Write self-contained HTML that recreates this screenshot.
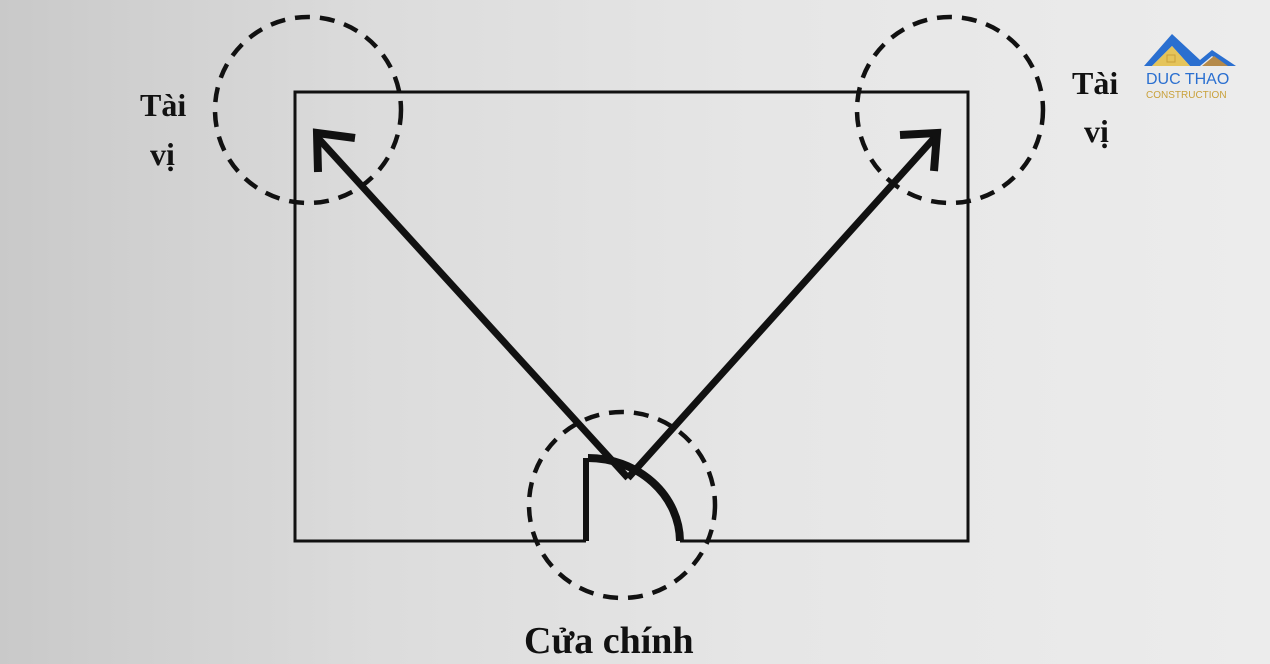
<!DOCTYPE html>
<html><head><meta charset="utf-8"><style>
html,body{margin:0;padding:0;}
body{width:1270px;height:664px;overflow:hidden;background:linear-gradient(90deg,#c9c9c9 0%,#dcdcdc 30%,#e6e6e6 60%,#ececec 100%);}
svg{position:absolute;left:0;top:0}
</style></head><body>
<svg width="1270" height="664" viewBox="0 0 1270 664">
<g fill="none" stroke="#111">
<path d="M586 541 H295 V92 H968 V541 H680" stroke-width="3"/>
<circle cx="308" cy="110" r="93" stroke-width="4.5" stroke-dasharray="15 10"/>
<circle cx="950" cy="110" r="93" stroke-width="4.5" stroke-dasharray="15 10"/>
<circle cx="622" cy="505" r="93" stroke-width="4.5" stroke-dasharray="15 10"/>
<path d="M586 541 V458" stroke-width="6"/>
<path d="M588 458 A 92 84 0 0 1 680 541" stroke-width="8"/>
<path d="M628 478 L318 138" stroke-width="7"/>
<path d="M628 478 L936 136" stroke-width="7"/>
<path d="M355 138 L317 133 L318 172" stroke-width="8" stroke-linejoin="miter"/>
<path d="M900 135 L937 133 L934 171" stroke-width="8" stroke-linejoin="miter"/>
</g>
<g font-family="Liberation Serif, serif" font-weight="bold" fill="#111">
<text x="140" y="116" font-size="32">Tài</text>
<text x="150" y="165" font-size="32">vị</text>
<text x="1072" y="94" font-size="32">Tài</text>
<text x="1084" y="142" font-size="32">vị</text>
<text x="524" y="653" font-size="38">Cửa chính</text>
</g>
<g>
<path d="M1144 66 L1172 34 L1200 60 L1212 50 L1236 66 L1226 66 L1212 56 L1200 66 L1190 66 L1172 46 L1152 66 Z" fill="#2a6fd0"/>
<path d="M1152 66 L1172 46 L1190 66 Z" fill="#e5c45a"/>
<path d="M1202 66 L1214 56 L1228 66 Z" fill="#b58a4a"/>
<rect x="1167" y="55" width="8" height="7" fill="#e5c45a" stroke="#c9a13a"/>
<text x="1146" y="84" font-family="Liberation Sans, sans-serif" font-size="16" fill="#2a6fd0">DUC THAO</text>
<text x="1146" y="98" font-family="Liberation Sans, sans-serif" font-size="10" fill="#c9a13a">CONSTRUCTION</text>
</g>
</svg>
</body></html>
